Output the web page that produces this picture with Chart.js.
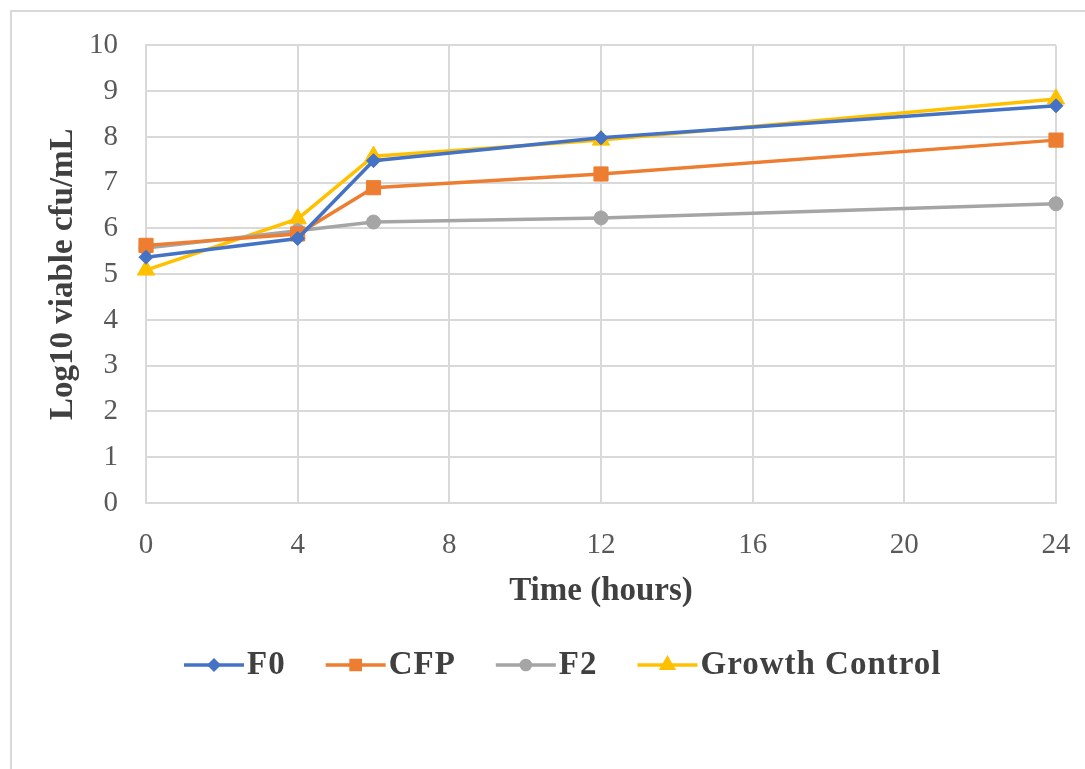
<!DOCTYPE html>
<html>
<head>
<meta charset="utf-8">
<script src="https://cdn.jsdelivr.net/npm/chart.js@4/dist/chart.umd.min.js"></script>
<style>
  html, body { margin: 0; padding: 0; background: #fff; overflow: hidden; }
  #frame {
    position: absolute; left: 10px; top: 10px; width: 1075px; height: 759px;
    border-left: 2px solid #d9d9d9; border-top: 2px solid #d9d9d9; box-sizing: border-box;
  }
  #wrap { position: absolute; left: 0; top: 0; width: 1085px; height: 769px; }
</style>
</head>
<body>
<div id="frame"></div>
<div id="wrap"><canvas id="growthChart"></canvas></div>
<script>
const hours = [0, 4, 6, 12, 24];
const xTicks = [0, 4, 8, 12, 16, 20, 24];
const seriesNames = ["F0", "CFP", "F2", "Growth Control"];
const f0Values = [5.37, 5.78, 7.48, 7.98, 8.68];
const cfpValues = [5.63, 5.88, 6.89, 7.19, 7.93];
const f2Values = [5.57, 5.95, 6.14, 6.23, 6.54];
const growthValues = [5.09, 6.21, 7.58, 7.93, 8.83];

const colors = ["#4472C4", "#ED7D31", "#A5A5A5", "#FFC000"];
const styles = ["rectRot", "rect", "circle", "triangle"];
const radii = [7, 10, 7, 10];
const valueSets = [f0Values, cfpValues, f2Values, growthValues];

const serif = "'Liberation Serif', 'Times New Roman', serif";
const gridColor = "#d9d9d9";

function toPoints(values) {
  return hours.map((h, i) => ({ x: h, y: values[i] }));
}

// legend drawn as line + marker, like the spreadsheet original
const lineLegend = {
  id: "lineLegend",
  afterDraw(chart) {
    const { ctx, chartArea } = chart;
    const y = 665;
    let x = chartArea.left + 38;
    ctx.save();
    ctx.font = "bold 33px " + serif;
    ctx.letterSpacing = "1px";
    ctx.textBaseline = "middle";
    chart.data.datasets.forEach((ds) => {
      ctx.strokeStyle = ds.borderColor;
      ctx.lineWidth = 3.5;
      ctx.beginPath();
      ctx.moveTo(x, y);
      ctx.lineTo(x + 60, y);
      ctx.stroke();
      ctx.fillStyle = ds.borderColor;
      Chart.helpers.drawPoint(ctx, {
        pointStyle: ds.pointStyle, radius: ds.pointRadius * 0.65, rotation: 0, borderWidth: 1
      }, x + 30, y);
      ctx.fillStyle = "#404040";
      ctx.fillText(ds.label, x + 63, y);
      x += 63 + ctx.measureText(ds.label).width + 40;
    });
    ctx.restore();
  },
};

new Chart(document.getElementById("growthChart"), {
  type: "line",
  data: {
    datasets: seriesNames.map((name, i) => ({
      label: name,
      data: toPoints(valueSets[i]),
      borderColor: colors[i],
      backgroundColor: colors[i],
      borderWidth: 3.5,
      pointStyle: styles[i],
      pointRadius: radii[i],
      pointBorderWidth: 1,
      tension: 0,
      clip: false,
    })),
  },
  options: {
    responsive: true,
    maintainAspectRatio: false,
    animation: false,
    layout: { padding: { left: 0, top: 44, right: 29, bottom: 158 } },
    scales: {
      x: {
        type: "linear",
        min: 0,
        max: 24,
        afterBuildTicks: (scale) => { scale.ticks = xTicks.map((v) => ({ value: v })); },
        afterFit: (scale) => {
          scale.height = 108;
          scale.paddingLeft = 0;
          scale.paddingRight = 0;
        },
        ticks: { font: { family: serif, size: 29 }, color: "#595959", padding: 25 },
        grid: { color: gridColor, lineWidth: 2, drawTicks: false },
        border: { color: gridColor, width: 2 },
        title: {
          display: true,
          text: "Time (hours)",
          font: { family: serif, size: 33, weight: "bold" },
          color: "#404040",
          padding: { top: 0, bottom: 0 },
        },
      },
      y: {
        min: 0,
        max: 10,
        afterFit: (scale) => { scale.width = 146; },
        ticks: { stepSize: 1, font: { family: serif, size: 29 }, color: "#595959", padding: 28 },
        grid: { color: gridColor, lineWidth: 2, drawTicks: false },
        border: { color: gridColor, width: 2 },
        title: {
          display: true,
          text: "Log10 viable cfu/mL",
          font: { family: serif, size: 33, weight: "bold" },
          color: "#404040",
          padding: { top: 44, bottom: 0 },
        },
      },
    },
    plugins: {
      legend: { display: false },
      tooltip: { enabled: false },
    },
  },
  plugins: [lineLegend],
});
</script>
</body>
</html>
